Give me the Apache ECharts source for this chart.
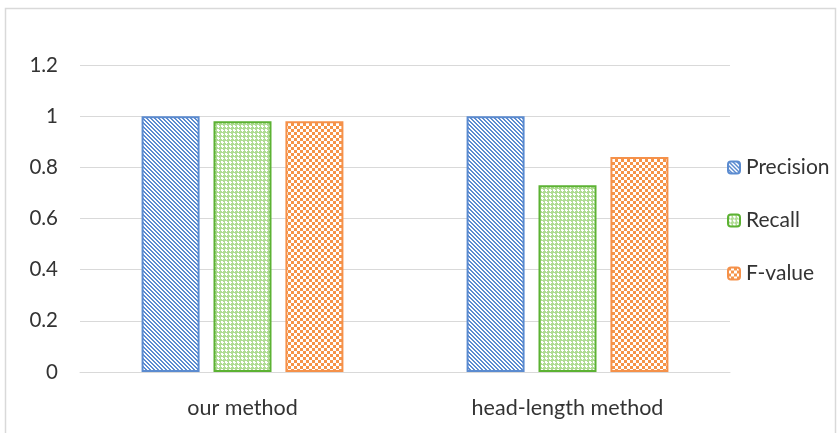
<!DOCTYPE html>
<html><head><meta charset="utf-8">
<script src="https://cdn.jsdelivr.net/npm/echarts@6/dist/echarts.min.js"></script>
<style>html,body{margin:0;padding:0;background:#fff}#c{width:837px;height:433px}</style>
</head><body><div id="c"></div>
<script>
const categories = ["our method", "head-length method"];
const seriesNames = ["Precision", "Recall", "F-value"];
const precision = [1.0, 1.0];
const recall = [0.98, 0.73];
const fvalue = [0.98, 0.84];
const yTicks = [0, 0.2, 0.4, 0.6, 0.8, 1, 1.2];

function makePattern(size, fg, test) {
  const cv = document.createElement('canvas');
  cv.width = size; cv.height = size;
  const ctx = cv.getContext('2d');
  ctx.fillStyle = '#ffffff';
  ctx.fillRect(0, 0, size, size);
  ctx.fillStyle = fg;
  for (let y = 0; y < size; y++) for (let x = 0; x < size; x++) if (test(x, y)) ctx.fillRect(x, y, 1, 1);
  return { image: cv, repeat: 'repeat' };
}
const bluePat = makePattern(8, '#5c8bd0', (x, y) => ((x - y) % 4 + 4) % 4 < 2);
const greenPat = makePattern(8, '#b0dc94', (x, y) => !((x % 4 === 1 || x % 4 === 2) && (y % 4 === 1 || y % 4 === 2)) && ((x + y) % 2 === 0 || (x % 4 === 0 || y % 4 === 0)));
const orangePat = makePattern(6, '#f59448', (x, y) => ((Math.floor(x / 3) + Math.floor(y / 3)) % 2) === 0);

const borders = ['#5b8bd0', '#5cb233', '#f5914a'];
const pats = [bluePat, greenPat, orangePat];
const datas = [precision, recall, fvalue];
const font = 'Lato, "Liberation Sans", sans-serif';
const txt = '#333333';

const chart = echarts.init(document.getElementById('c'), null, { renderer: 'canvas' });
chart.setOption({
  animation: false,
  backgroundColor: '#ffffff',
  graphic: [{ type: 'rect', shape: { x: 5.5, y: 8.5, width: 830, height: 440 }, style: { fill: 'none', stroke: '#d9d9d9', lineWidth: 1.5 }, silent: true }],
  grid: { left: 80, right: 107, top: 65, bottom: 61 },
  legend: {
    orient: 'vertical', left: 722, top: 152, itemGap: 32, itemWidth: 12, itemHeight: 12,
    data: seriesNames,
    textStyle: { fontFamily: font, fontSize: 21, color: txt, padding: [0, 0, 0, 1] }
  },
  xAxis: {
    type: 'category', data: categories,
    axisLine: { lineStyle: { color: '#d9d9d9', width: 1 } },
    axisTick: { show: false },
    axisLabel: { fontFamily: font, fontSize: 21.5, color: txt, margin: 25 }
  },
  yAxis: {
    type: 'value', min: 0, max: 1.2, interval: 0.2,
    axisLine: { show: false }, axisTick: { show: false },
    splitLine: { lineStyle: { color: '#d9d9d9', width: 1 } },
    axisLabel: { fontFamily: font, fontSize: 20.5, color: txt, margin: 22,
      formatter: v => String(yTicks.reduce((a, b) => Math.abs(b - v) < Math.abs(a - v) ? b : a)) }
  },
  series: seriesNames.map((n, i) => ({
    name: n, type: 'bar', data: datas[i], barWidth: 58, barGap: '24%',
    itemStyle: { color: pats[i], borderColor: borders[i], borderWidth: 2 }
  }))
});
</script></body></html>
